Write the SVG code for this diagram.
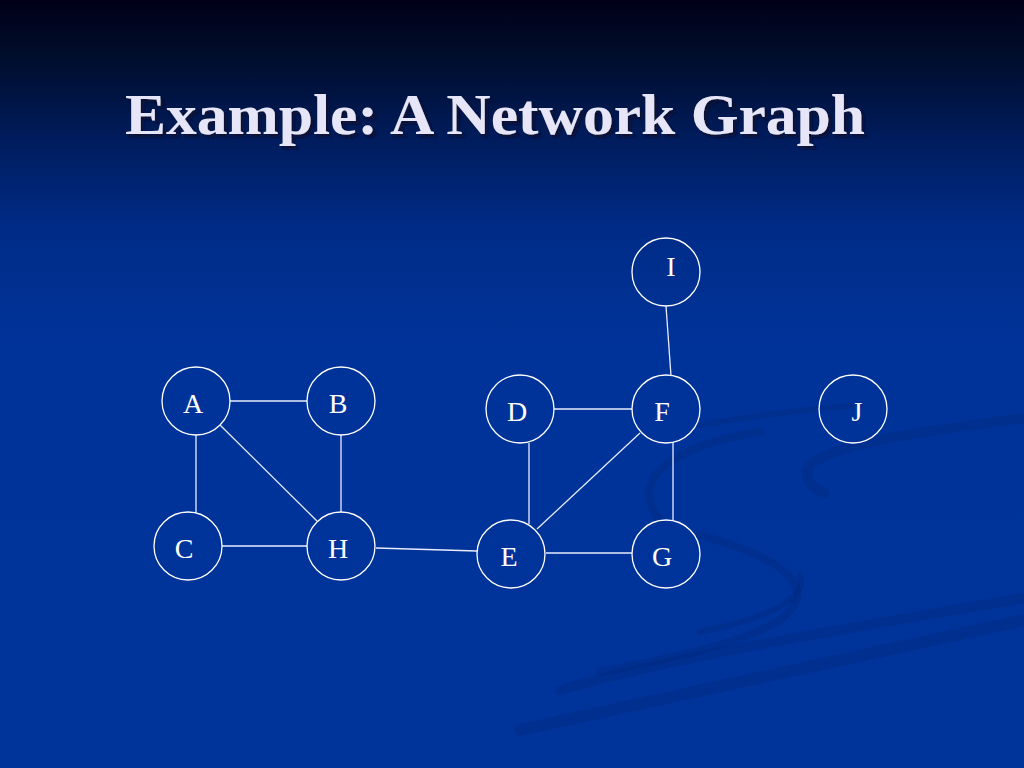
<svg xmlns="http://www.w3.org/2000/svg" width="1024" height="768" viewBox="0 0 1024 768">
<defs>
<linearGradient id="bg" x1="0" y1="0" x2="0" y2="1">
<stop offset="0" stop-color="#000018"/>
<stop offset="0.07" stop-color="#000d2a"/>
<stop offset="0.18" stop-color="#001c5c"/>
<stop offset="0.3" stop-color="#002c88"/>
<stop offset="0.45" stop-color="#003399"/>
<stop offset="1" stop-color="#00349b"/>
</linearGradient>
<filter id="shadow" x="-5%" y="-20%" width="110%" height="150%">
<feDropShadow dx="3" dy="3" stdDeviation="0.8" flood-color="#0a1030" flood-opacity="0.9"/>
</filter>
<style>
.node circle{fill:none;stroke:#ffffff;stroke-width:1.3}
.node text{font-family:"Liberation Serif","Times New Roman",serif;font-size:28px;fill:#ffffff;text-anchor:middle}
.edges line{stroke:#e8ecff;stroke-width:1.3}
.swoosh{fill:none;stroke:#00287a;stroke-linecap:round;opacity:0.35}
.title{font-family:"Liberation Serif","Times New Roman",serif;font-weight:bold;font-size:58px;fill:#e6e6f8}
</style>
</defs>
<rect width="1024" height="768" fill="url(#bg)"/>
<g id="background-swooshes">
<path class="swoosh" stroke-width="10" d="M1024,418 C940,430 840,440 810,465 C800,478 815,490 825,493"/>
<path class="swoosh" stroke-width="6" d="M700,425 C760,415 820,408 860,405"/>
<path class="swoosh" stroke-width="8" d="M660,520 C620,470 700,440 760,432"/>
<path class="swoosh" stroke-width="10" d="M560,690 C700,650 900,620 1024,598"/>
<path class="swoosh" stroke-width="12" d="M520,730 C700,690 880,650 1024,620"/>
<path class="swoosh" stroke-width="8" d="M700,535 C790,560 820,590 780,620 C740,645 660,660 600,672"/>
<path class="swoosh" stroke-width="6" d="M700,632 C760,620 810,600 800,575"/>
</g>
<g id="title">
<text class="title" x="125" y="134" filter="url(#shadow)" textLength="740" lengthAdjust="spacingAndGlyphs">Example: A Network Graph</text>
</g>
<g id="connectors" class="edges">
<line x1="230" y1="401" x2="307" y2="401"/>
<line x1="196" y1="435" x2="196" y2="513"/>
<line x1="220" y1="425" x2="317" y2="521"/>
<line x1="341" y1="435" x2="341" y2="512"/>
<line x1="222" y1="546" x2="307" y2="546"/>
<line x1="376" y1="548" x2="477" y2="551"/>
<line x1="666" y1="306" x2="671" y2="376"/>
<line x1="554" y1="409" x2="632" y2="409"/>
<line x1="529" y1="443" x2="529" y2="524"/>
<line x1="537" y1="529" x2="640" y2="433"/>
<line x1="673" y1="443" x2="673" y2="521"/>
<line x1="546" y1="553" x2="632" y2="553"/>
</g>
<g id="node-A" class="node"><circle cx="196" cy="401" r="34"/><text x="193" y="413">A</text></g>
<g id="node-B" class="node"><circle cx="341" cy="401" r="34"/><text x="338" y="413">B</text></g>
<g id="node-C" class="node"><circle cx="188" cy="546" r="34"/><text x="184" y="558">C</text></g>
<g id="node-H" class="node"><circle cx="341" cy="546" r="34"/><text x="338" y="558">H</text></g>
<g id="node-I" class="node"><circle cx="666" cy="272" r="34"/><text x="671" y="276">I</text></g>
<g id="node-D" class="node"><circle cx="520" cy="409" r="34"/><text x="517" y="421">D</text></g>
<g id="node-F" class="node"><circle cx="666" cy="409" r="34"/><text x="662" y="421">F</text></g>
<g id="node-E" class="node"><circle cx="511" cy="554" r="34"/><text x="509" y="566">E</text></g>
<g id="node-G" class="node"><circle cx="666" cy="554" r="34"/><text x="662" y="566">G</text></g>
<g id="node-J" class="node"><circle cx="853" cy="409" r="34"/><text x="857" y="421">J</text></g>
</svg>
